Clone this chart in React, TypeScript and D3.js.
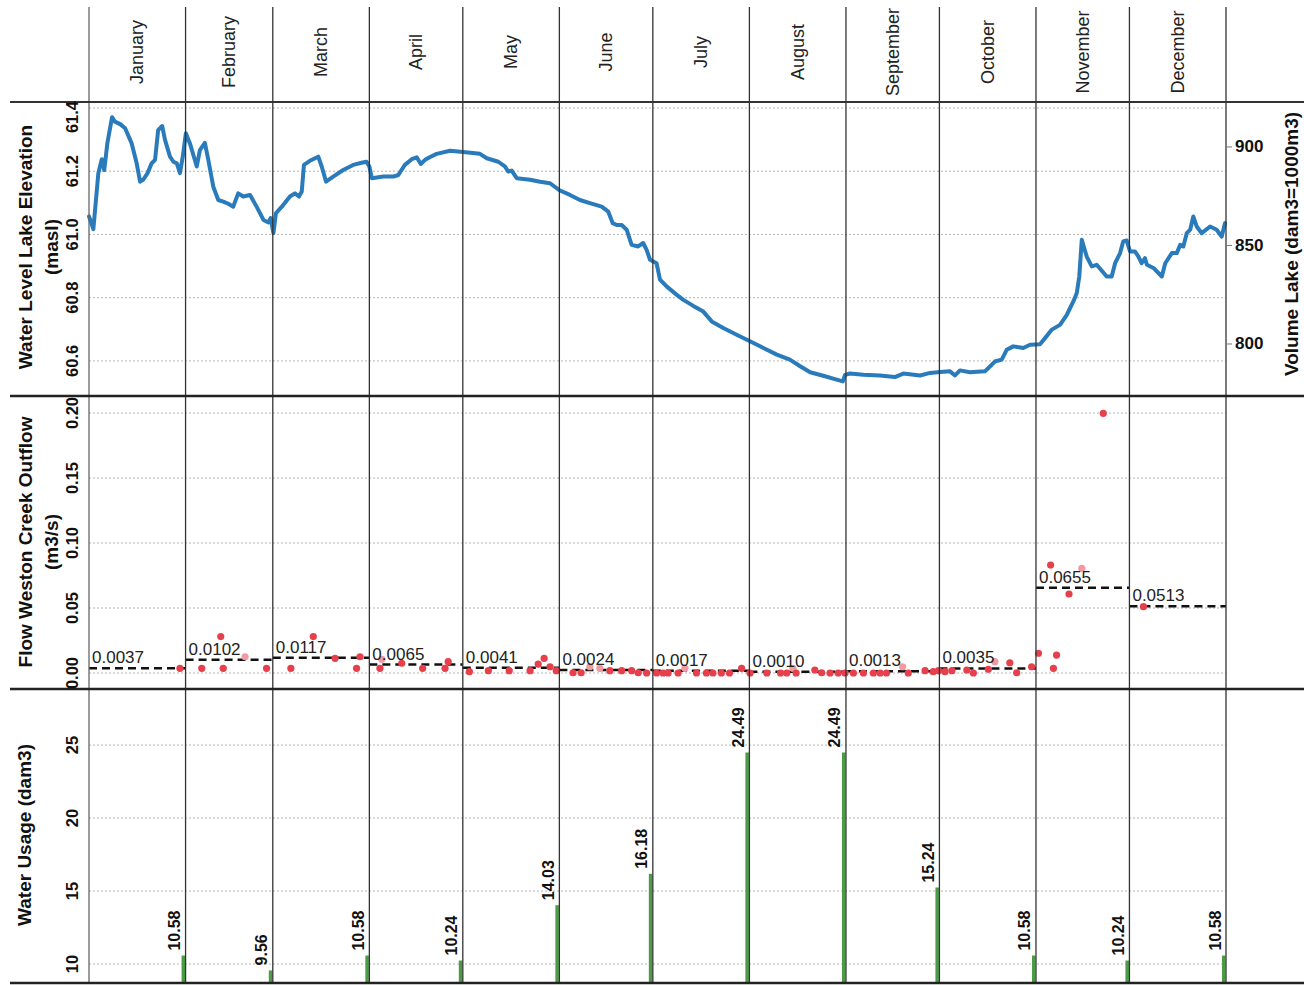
import React from "react";
import * as d3 from "d3";

// ---------- data ----------
const months = ["January","February","March","April","May","June","July","August","September","October","November","December"];

// lake water level (day of year, elevation masl)
const lakeDay = [0,1.4,3,4.1,4.9,5.9,7.4,8.3,10,11.6,13.7,15.3,16.4,17.4,18.8,20.1,21.2,22.2,23.5,24.4,26,27.1,28.2,29.2,30.1,31.1,32.4,34.6,35.6,37.2,38.3,39.9,41.5,43.1,44.7,46.3,47.9,49.5,51.7,53.8,56,57.6,58.3,59.2,60,61.9,64.5,66.1,67.4,68.3,69,70.9,73.6,74.7,76.1,78.4,81.6,84.8,87.5,89.1,90,90.8,94.5,97.7,99.3,101.4,103.6,105.2,106.5,107.9,109.5,111.6,115.9,120.1,125.5,127.7,131.4,133.5,134.6,135.7,137.3,141.6,144.8,148,151.2,154.4,157.6,160.8,164.6,166.7,168.1,169.4,171,172.6,174.2,176.3,177.9,179,180.1,182.2,183.3,185.5,188.7,190.8,194,197.2,199.9,203.6,207.9,212.2,216.5,220.8,225,228.3,231.5,235.7,240,242,242.7,244.3,248.6,253.9,258.7,261.4,266.8,270,273.2,276.4,278,279.6,282.8,287.6,289.8,290.8,293,294.6,296.7,299.9,302.1,305.3,306.9,309.1,311.7,313.9,316,317.1,317.9,318.7,320.3,321.9,323.5,326.7,328.3,329.4,331,332,333.1,334.2,335.8,336.9,337.9,339,339.6,341.7,344.4,345.5,347.6,349.2,350.3,351.3,352.4,353.5,354.5,355.6,357.2,359.9,362,363.6,364.7];
const lakeElev = [61.057,61.017,61.194,61.238,61.204,61.289,61.371,61.357,61.349,61.336,61.288,61.225,61.167,61.173,61.194,61.225,61.236,61.330,61.343,61.299,61.246,61.230,61.225,61.194,61.246,61.320,61.288,61.215,61.267,61.290,61.236,61.151,61.109,61.104,61.097,61.088,61.130,61.120,61.125,61.088,61.046,61.038,61.052,61.004,61.067,61.088,61.120,61.130,61.120,61.136,61.220,61.233,61.246,61.215,61.167,61.183,61.204,61.220,61.227,61.230,61.215,61.178,61.183,61.183,61.188,61.220,61.238,61.244,61.223,61.236,61.245,61.255,61.265,61.261,61.255,61.241,61.230,61.215,61.199,61.202,61.178,61.173,61.167,61.162,61.139,61.125,61.109,61.099,61.088,61.072,61.036,61.030,61.030,61.015,60.967,60.962,60.973,60.951,60.920,60.909,60.857,60.835,60.809,60.793,60.774,60.756,60.725,60.704,60.683,60.662,60.641,60.620,60.604,60.583,60.564,60.553,60.541,60.535,60.556,60.560,60.556,60.554,60.549,60.560,60.554,60.562,60.565,60.567,60.554,60.570,60.564,60.567,60.588,60.598,60.604,60.635,60.646,60.641,60.651,60.653,60.672,60.699,60.714,60.746,60.788,60.815,60.867,60.983,60.930,60.899,60.904,60.867,60.867,60.909,60.941,60.978,60.981,60.946,60.946,60.930,60.909,60.925,60.904,60.894,60.867,60.909,60.941,60.941,60.967,60.962,61.004,61.015,61.057,61.025,61.004,61.025,61.015,60.993,61.036];

// creek outflow samples (day of year, m3/s)
const flowDay = [29.2,36.2,42.3,43.1,57,64.8,72,79,85.9,87,93.4,100.4,107.1,114.3,115.3,122.1,128.2,134.9,141.6,144.2,146.1,148,150,155.4,158,167.2,171,174.2,176.3,179,182.2,184.3,185.9,189.1,195,198.2,200.3,203,205.6,209.5,212.2,217.6,222,224,227,233,235.2,237.9,240.5,242.7,245.4,248.6,251.8,254,256,263,268.4,271,272.7,274.8,277,281.8,283.9,288.7,295.6,297.8,302.6,304.8,309.6,310.6,308.7,314.6,325.6,338.5];
const flowValue = [0.0036,0.0036,0.028,0.0036,0.0036,0.0036,0.028,0.0113,0.0036,0.0125,0.0036,0.0075,0.0036,0.0036,0.0087,0.001,0.0018,0.0018,0.0018,0.0069,0.0113,0.0048,0.0018,0.0002,0.0002,0.0018,0.0018,0.0018,0.0002,0,0,0,0,0,0,0,0,0,0,0.0036,0,0,0,0,0,0.0023,0.0002,0,0,0,0,0,0,0,0,0,0.0018,0.001,0.0018,0.001,0.0018,0.0023,0,0.0028,0.0079,0.0002,0.0048,0.0152,0.0036,0.0138,0.083,0.0608,0.1998,0.051];
// lighter (provisional) samples
const flowLightDay = [50.1,94,160.8,164,191.3,226,261.2,290.8,318.7];
const flowLightValue = [0.0125,0.0105,0.0048,0.0036,0.0036,0.0036,0.0048,0.0087,0.0805];

const flowMean = [0.0037,0.0102,0.0117,0.0065,0.0041,0.0024,0.0017,0.0010,0.0013,0.0035,0.0655,0.0513];
const flowMeanLabel = ["0.0037","0.0102","0.0117","0.0065","0.0041","0.0024","0.0017","0.0010","0.0013","0.0035","0.0655","0.0513"];

const usage = [10.58,9.56,10.58,10.24,14.03,16.18,24.49,24.49,15.24,10.58,10.24,10.58];

const elevTicks = [60.6,60.8,61.0,61.2,61.4];
const volTicks = [800,850,900];
const flowTicks = [0,0.05,0.1,0.15,0.2];
const usageTicks = [10,15,20,25];

// ---------- layout ----------
const W = 1304, H = 985;
const FONT = "'Liberation Sans', Arial, Helvetica, sans-serif";
const P1 = { top: 102, bottom: 396 };
const P2 = { top: 396, bottom: 689 };
const P3 = { top: 689, bottom: 983 };
const LEFT = 89, RIGHT = 1226;

const t0 = Date.UTC(2019, 0, 1);
const t1 = Date.UTC(2020, 0, 1);
const dayToDate = (d: number) => new Date(t0 + d * 86400000);

const x = d3.scaleUtc().domain([new Date(t0), new Date(t1)]).range([LEFT, RIGHT]);
const yElev = d3.scaleLinear().domain([60.489, 61.419]).range([P1.bottom, P1.top]);
const yVol = d3.scaleLinear().domain([773.6, 922.8]).range([P1.bottom, P1.top]);
const yFlow = d3.scaleLinear().domain([-0.0123, 0.2131]).range([P2.bottom, P2.top]);
const yUse = d3.scaleLinear().domain([8.7, 28.84]).range([P3.bottom, P3.top]);

const monthStarts = d3.utcMonths(new Date(t0), new Date(t1 + 1));

export default function App() {
  const lakePts: [number, number][] = lakeDay.map((d, i) => [x(dayToDate(d)), yElev(lakeElev[i])]);
  const linePath = d3.line().curve(d3.curveLinear)(lakePts) || "";

  const clampLabel = (y: number, p: { top: number; bottom: number }) =>
    Math.min(Math.max(y, p.top + 15), p.bottom - 15);

  const grid = (ticks: number[], scale: (v: number) => number, key: string) =>
    ticks.map((t) => (
      <line key={key + t} x1={LEFT} x2={RIGHT} y1={scale(t)} y2={scale(t)}
        stroke="#b5b5b5" strokeWidth={1} strokeDasharray="2,2" />
    ));

  const leftTicks = (ticks: number[], scale: (v: number) => number, p: any, fmt: (v: number) => string, key: string) =>
    ticks.map((t) => {
      const cy = clampLabel(scale(t), p);
      return (
        <text key={key + t} transform={`translate(72,${cy}) rotate(-90)`} textAnchor="middle"
          dominantBaseline="central" fontFamily={FONT} fontWeight="bold" fontSize={16.5} fill="#111">
          {fmt(t)}
        </text>
      );
    });

  const leftTitle = (lines: string[], cy: number, key: string) =>
    lines.map((s, i) => (
      <text key={key + i} transform={`translate(${lines.length === 1 ? 24 : 25 + i * 26},${cy}) rotate(-90)`}
        textAnchor="middle" dominantBaseline="central" fontFamily={FONT} fontWeight="bold" fontSize={19} fill="#111">
        {s}
      </text>
    ));

  return (
    <svg width={W} height={H} viewBox={`0 0 ${W} ${H}`}
      style={{ position: "absolute", left: 0, top: 0, display: "block", background: "#fff" }}>
      <rect x={0} y={0} width={W} height={H} fill="#fff" />

      {/* gridlines */}
      {grid(elevTicks, yElev, "ge")}
      {grid(flowTicks, yFlow, "gf")}
      {grid(usageTicks, yUse, "gu")}

      {/* month header labels */}
      {months.map((m, i) => {
        const cx = (x(monthStarts[i]) + x(monthStarts[i + 1])) / 2;
        return (
          <text key={m} transform={`translate(${cx},52) rotate(-90)`} textAnchor="middle"
            dominantBaseline="central" fontFamily={FONT} fontSize={18} fill="#222">
            {m}
          </text>
        );
      })}

      {/* lake level line */}
      <path d={linePath} fill="none" stroke="#2a7bbb" strokeWidth={4} strokeLinejoin="round" strokeLinecap="round" />

      {/* flow means */}
      {flowMean.map((v, i) => {
        const xa = x(monthStarts[i]), xb = x(monthStarts[i + 1]);
        return (
          <g key={"fm" + i}>
            <line x1={xa} x2={xb} y1={yFlow(v)} y2={yFlow(v)} stroke="#111" strokeWidth={2.5} strokeDasharray="8,5" />
          </g>
        );
      })}

      {/* flow samples */}
      {flowLightDay.map((d, i) => (
        <circle key={"fl" + i} cx={x(dayToDate(d))} cy={yFlow(flowLightValue[i])} r={3.6} fill="#f29aa2" />
      ))}
      {flowDay.map((d, i) => (
        <circle key={"fd" + i} cx={x(dayToDate(d))} cy={yFlow(flowValue[i])} r={3.6} fill="#e5404c" />
      ))}

      {flowMean.map((v, i) => (
        <text key={"fmt" + i} x={x(monthStarts[i]) + 3} y={yFlow(v) - 5} fontFamily={FONT} fontSize={17} fill="#222">
          {flowMeanLabel[i]}
        </text>
      ))}

      {/* usage bars */}
      {usage.map((v, i) => {
        const xe = x(monthStarts[i + 1]);
        const yt = yUse(v);
        return (
          <g key={"u" + i}>
            <rect x={xe - 4} y={yt} width={3.5} height={P3.bottom - yt} fill="#4a9d44" />
            <text transform={`translate(${xe - 11},${yt - 5}) rotate(-90)`} textAnchor="start"
              dominantBaseline="central" fontFamily={FONT} fontWeight="bold" fontSize={16} fill="#111">
              {v.toFixed(2)}
            </text>
          </g>
        );
      })}

      {/* month boundary lines */}
      {monthStarts.map((m, i) => (
        <line key={"v" + i} x1={x(m)} x2={x(m)} y1={7} y2={P3.bottom}
          stroke={i === 0 ? "#666" : "#333"} strokeWidth={1.3} />
      ))}

      {/* panel separators */}
      <line x1={10} x2={W} y1={P1.top} y2={P1.top} stroke="#333" strokeWidth={2} />
      <line x1={10} x2={W} y1={P2.top} y2={P2.top} stroke="#222" strokeWidth={2.5} />
      <line x1={10} x2={W} y1={P3.top} y2={P3.top} stroke="#222" strokeWidth={2.5} />
      <line x1={10} x2={W} y1={P3.bottom} y2={P3.bottom} stroke="#222" strokeWidth={2.5} />

      {/* left axes */}
      {leftTicks(elevTicks, yElev, P1, (v) => v.toFixed(1), "te")}
      {leftTicks(flowTicks, yFlow, P2, (v) => v.toFixed(2), "tf")}
      {leftTicks(usageTicks, yUse, P3, (v) => String(v), "tu")}

      {leftTitle(["Water Level Lake Elevation", "(masl)"], 247, "l1")}
      {leftTitle(["Flow Weston Creek Outflow", "(m3/s)"], 542, "l2")}
      {leftTitle(["Water Usage (dam3)"], 835, "l3")}

      {/* right volume axis */}
      {volTicks.map((t) => (
        <g key={"vt" + t}>
          <line x1={RIGHT + 1} x2={RIGHT + 6} y1={yVol(t)} y2={yVol(t)} stroke="#777" strokeWidth={1} />
          <text x={RIGHT + 9} y={yVol(t)} dominantBaseline="central" fontFamily={FONT} fontWeight="bold"
            fontSize={17} fill="#111">
            {t}
          </text>
        </g>
      ))}
      <text transform={`translate(1291,${(P1.top + P1.bottom) / 2 - 5}) rotate(-90)`} textAnchor="middle"
        dominantBaseline="central" fontFamily={FONT} fontWeight="bold" fontSize={19} fill="#111">
        Volume Lake (dam3=1000m3)
      </text>
    </svg>
  );
}
